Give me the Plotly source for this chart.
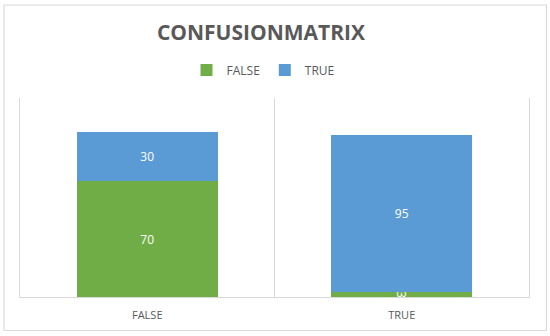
import plotly.graph_objects as go

categories = ["FALSE", "TRUE"]
false_values = [70, 3]
true_values = [30, 95]
series_names = ["FALSE", "TRUE"]

GREEN = "#70AD47"
BLUE = "#5B9BD5"
GRAY_TEXT = "#595959"
GRID = "#D9D9D9"
FONT = "Open Sans"

fig = go.Figure()
for name, vals, col in [(series_names[0], false_values, GREEN), (series_names[1], true_values, BLUE)]:
    fig.add_trace(go.Bar(
        x=categories, y=vals, name=name,
        marker=dict(color=col, line=dict(width=0)),
        text=vals, textposition="inside", insidetextanchor="middle",
        constraintext="none",
        textfont=dict(color="white", size=12, family=FONT),
        width=0.555,
    ))

# plot area: x 20..529, y 98..297 in a 550x336 canvas
L, R, T, B = 20, 21, 98, 39
W, H = 550 - L - R, 336 - T - B

def px_x(px):
    return (px - L) / W

def px_y(py):
    return (336 - B - py) / H

fig.update_layout(
    width=550, height=336,
    barmode="stack",
    margin=dict(l=L, r=R, t=T, b=B),
    paper_bgcolor="white", plot_bgcolor="white",
    font=dict(family=FONT, color=GRAY_TEXT),
    title=dict(text="<b>CONFUSIONMATRIX</b>", x=261 / 550, xanchor="center",
               xref="container", yref="container", y=1 - 33 / 336, yanchor="middle",
               font=dict(size=21, color=GRAY_TEXT, family=FONT)),
    legend=dict(orientation="h", x=px_x(263), xanchor="center",
                y=px_y(70), yanchor="middle", traceorder="normal",
                font=dict(size=12, color=GRAY_TEXT, family=FONT),
                itemwidth=30, bgcolor="rgba(0,0,0,0)"),
    showlegend=True,
    xaxis=dict(type="category", tickson="boundaries", showgrid=True, gridcolor=GRID,
               gridwidth=1, showline=True, linecolor=GRID, linewidth=1,
               ticks="", ticklabelstandoff=8,
               tickfont=dict(size=11, color=GRAY_TEXT, family=FONT),
               range=[-0.5, 1.5], mirror=False, zeroline=False),
    yaxis=dict(range=[0, 120.6], showgrid=False, showticklabels=False,
               zeroline=False, showline=True, mirror=True, linecolor=GRID,
               linewidth=1, ticks=""),
    shapes=[dict(type="rect", xref="paper", yref="paper",
                 x0=px_x(4), x1=px_x(546.5), y0=px_y(330.5), y1=px_y(5),
                 line=dict(color=GRID, width=1.2), fillcolor="rgba(0,0,0,0)", layer="below")],
)

fig.write_html("out.html", config={"displayModeBar": False},
               post_script="document.body.style.margin='0';document.body.style.overflow='hidden';")
